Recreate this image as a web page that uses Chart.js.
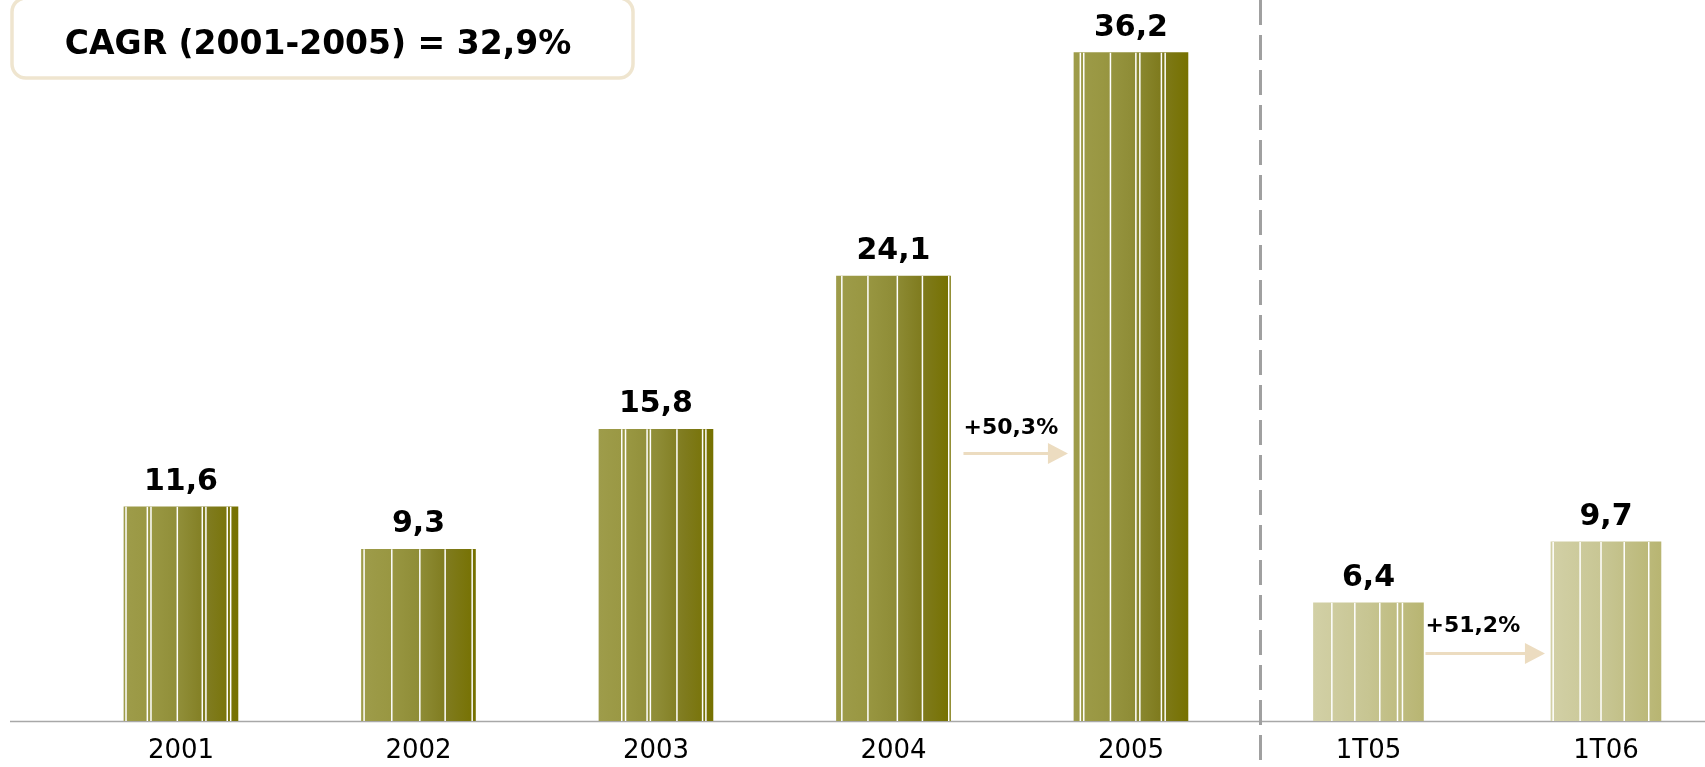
<!DOCTYPE html>
<html>
<head>
<meta charset="utf-8">
<script src="https://cdn.jsdelivr.net/npm/chart.js@4"></script>
<style>
  html, body { margin: 0; padding: 0; background: #fff; }
  #wrap { width: 1705px; height: 767px; }
</style>
</head>
<body>
<div id="wrap"><canvas id="c" width="1705" height="767"></canvas></div>
<script>
// ---- data ----
const categories = ['2001', '2002', '2003', '2004', '2005', '1T05', '1T06'];
const values = [11.6, 9.3, 15.8, 24.1, 36.2, 6.4, 9.7];
const annualCount = 5;            // first five categories are full years
const growthFrom = [3, 5];        // growth arrows start at these category indexes
const growthLabels = ['+50,3%', '+51,2%'];
const headline = 'CAGR (2001-2005) = 32,9%';

// ---- helpers ----
const FONT = "'DejaVu Sans', Verdana, sans-serif";
const fmt = v => v.toFixed(1).replace('.', ',');
const annualPoints = values.slice(0, annualCount).map((v, i) => ({ x: i, y: v }));
const quarterPoints = values.slice(annualCount).map((v, i) => ({ x: i + annualCount, y: v }));

function gradientFill(stops, thickness) {
  return (ctx) => {
    const chart = ctx.chart;
    const xs = chart.scales && chart.scales.x;
    if (!chart.chartArea || !xs || !ctx.raw) return stops[0][1];
    const cx = xs.getPixelForValue(ctx.raw.x);
    const g = chart.ctx.createLinearGradient(cx - thickness / 2, 0, cx + thickness / 2, 0);
    stops.forEach(s => g.addColorStop(s[0], s[1]));
    return g;
  };
}
const darkStops = [[0, '#9e9c4a'], [0.25, '#999742'], [0.5, '#8f8d37'], [0.75, '#7f7b1e'], [1, '#767100']];
const lightStops = [[0, '#d2d0a6'], [0.5, '#c7c592'], [1, '#b8b572']];

// stripe artefacts (white hairlines) within each bar, as fractions of bar width
const stripeSets = [
  [0.018, 0.205, 0.237, 0.468, 0.687, 0.719, 0.906, 0.936],
  [0.023, 0.266, 0.512, 0.734, 0.971],
  [0.2, 0.233, 0.422, 0.451, 0.684, 0.909, 0.938],
  [0.047, 0.276, 0.534, 0.754, 0.985],
  [0.056, 0.086, 0.32, 0.543, 0.578, 0.767, 0.8],
  [0.167, 0.376, 0.603, 0.764, 0.809],
  [0.02, 0.265, 0.455, 0.666, 0.889]
];

const decor = {
  id: 'decor',
  beforeDatasetsDraw(chart) {
    const { ctx, chartArea } = chart;
    ctx.save();
    ctx.strokeStyle = '#a8a8a8';
    ctx.lineWidth = 1.5;
    ctx.beginPath();
    ctx.moveTo(10, chartArea.bottom + 0.5);
    ctx.lineTo(1705, chartArea.bottom + 0.5);
    ctx.stroke();
    ctx.restore();
  },
  afterDatasetsDraw(chart, args, opts) {
    const { ctx } = chart;
    const yScale = chart.scales.y;
    const bars = [];
    chart.data.datasets.forEach((ds, di) => {
      chart.getDatasetMeta(di).data.forEach((el, j) => {
        bars[ds.data[j].x] = el;
      });
    });
    ctx.save();
    // stripes + value labels
    bars.forEach((el, i) => {
      const left = el.x - el.width / 2;
      ctx.strokeStyle = '#ffffff';
      ctx.lineWidth = 1.5;
      (stripeSets[i] || []).forEach(f => {
        const x = left + f * el.width;
        ctx.beginPath();
        ctx.moveTo(x, el.y);
        ctx.lineTo(x, el.base);
        ctx.stroke();
      });
      ctx.fillStyle = '#000';
      ctx.font = 'bold 30px ' + FONT;
      ctx.textAlign = 'center';
      ctx.textBaseline = 'alphabetic';
      ctx.fillText(fmt(values[i]), el.x, el.y - 17);
    });
    // growth arrows
    growthFrom.forEach((i, k) => {
      const a = bars[i], b = bars[i + 1];
      const x0 = a.x + a.width / 2 + opts.arrowGap[k];
      const x1 = b.x - b.width / 2 - 6;
      const y = Math.round(yScale.getPixelForValue(opts.arrowLevel[k])) + 0.5;
      ctx.strokeStyle = '#ecdcc0';
      ctx.fillStyle = '#ecdcc0';
      ctx.lineWidth = 3;
      ctx.beginPath();
      ctx.moveTo(x0, y);
      ctx.lineTo(x1 - 18, y);
      ctx.stroke();
      ctx.beginPath();
      ctx.moveTo(x1 - 20, y - 10.5);
      ctx.lineTo(x1, y);
      ctx.lineTo(x1 - 20, y + 10.5);
      ctx.closePath();
      ctx.fill();
      ctx.fillStyle = '#000';
      ctx.font = 'bold 22px ' + FONT;
      ctx.textAlign = 'left';
      ctx.textBaseline = 'alphabetic';
      ctx.fillText(growthLabels[k], x0, y - opts.textLift[k]);
    });
    // dashed divider between years and quarters
    const dx = Math.round((bars[annualCount - 1].x + bars[annualCount].x) / 2 + 10) + 0.5;
    ctx.strokeStyle = '#a0a0a0';
    ctx.lineWidth = 3;
    ctx.setLineDash([25, 10]);
    ctx.beginPath();
    ctx.moveTo(dx, 0);
    ctx.lineTo(dx, 762);
    ctx.stroke();
    ctx.setLineDash([]);
    // headline box
    ctx.strokeStyle = '#efe5cf';
    ctx.lineWidth = 3.5;
    ctx.beginPath();
    ctx.roundRect(12, -2, 621, 80, 14);
    ctx.stroke();
    ctx.fillStyle = '#000';
    ctx.font = 'bold 33px ' + FONT;
    ctx.textAlign = 'center';
    ctx.textBaseline = 'middle';
    ctx.fillText(headline, 318, 45);
    ctx.restore();
  }
};

new Chart(document.getElementById('c'), {
  type: 'bar',
  data: {
    datasets: [
      {
        label: 'Años',
        data: annualPoints,
        barThickness: 114,
        backgroundColor: gradientFill(darkStops, 114),
        borderWidth: 0
      },
      {
        label: 'Trimestres',
        data: quarterPoints,
        barThickness: 110,
        backgroundColor: gradientFill(lightStops, 110),
        borderWidth: 0
      }
    ]
  },
  options: {
    responsive: false,
    animation: false,
    events: [],
    layout: { padding: { left: 52, right: 0, top: 1, bottom: 0 } },
    datasets: { bar: { grouped: false } },
    plugins: {
      legend: { display: false },
      tooltip: { enabled: false },
      decor: { arrowGap: [13, 2], arrowLevel: [14.5, 3.7], textLift: [20, 22] }
    },
    scales: {
      x: {
        type: 'linear',
        offset: false,
        min: -0.543,
        max: 6.417,
        grid: { display: false, drawTicks: false },
        border: { display: false },
        afterFit: (s) => { s.height = 46; },
        ticks: {
          stepSize: 1,
          includeBounds: false,
          autoSkip: false,
          maxRotation: 0,
          padding: 15,
          color: '#000',
          font: { family: FONT, size: 26 },
          callback: (v) => Number.isInteger(v) && categories[v] !== undefined ? categories[v] : ''
        }
      },
      y: { display: false, min: 0, max: 39 }
    }
  },
  plugins: [decor]
});
</script>
</body>
</html>
